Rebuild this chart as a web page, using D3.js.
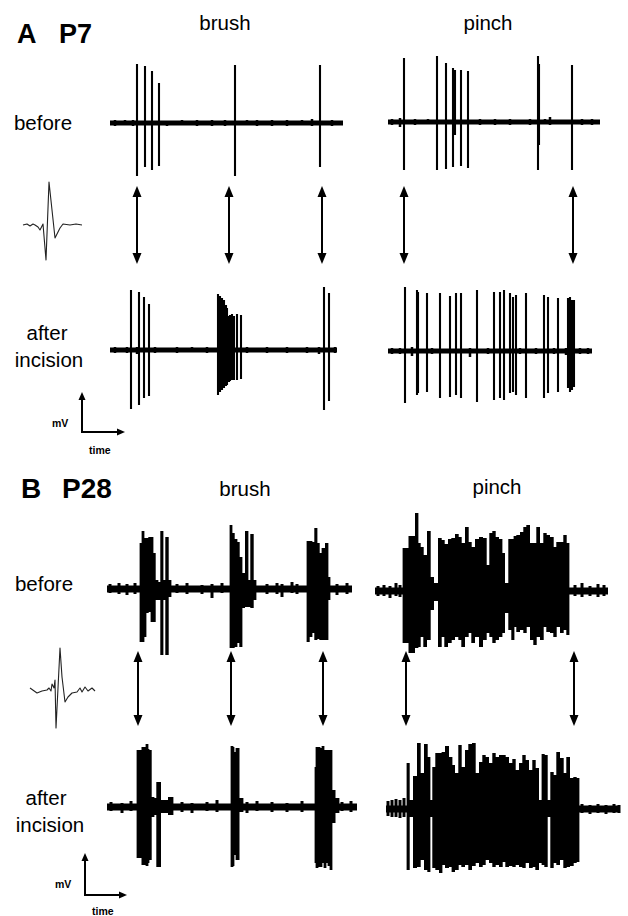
<!DOCTYPE html>
<html><head><meta charset="utf-8">
<script src="https://cdn.jsdelivr.net/npm/d3@7"></script>
<style>html,body{margin:0;padding:0;background:#fff}svg{display:block}</style>
</head><body><svg id="c" width="628" height="916"></svg>
<script>
// ---------- DATA ----------
const panels = ["A", "B"];
const ages = ["P7", "P28"];
const stimuli = ["brush", "pinch"];
const conditions = ["before", "after incision"];
const scaleLabels = ["mV", "time"];

// spikes: [time, upward amplitude, downward amplitude]
const aBrushBefore = [[30,59,53],[38,57,44],[45,52,47],[52,40,43],[128,58,53],[213,58,44]];
const aPinchBefore = [[34,64,48],[67,66,48],[76,59,47],[83,54,45],[85,52,13],[91,52,44],[98,51,46],[168,66,48],[169,58,23],[202,57,48]];
const aBrushAfter = [[24,60,59],[32,58,55],[37,53,48],[42,46,46],[111,56,45],[113,54,42],[115,52,40],[117,50,38],[119,45,36],[120,42,35],[122,34,32],[123,35,31],[125,36,30],[127,34,30],[130,36,30],[134,35,29],[217,63,60],[222,57,51]];
const aPinchAfter = [[35,64,52],[47,61,44],[48,59,42],[57,58,41],[70,58,47],[80,55,46],[86,58,44],[91,58,47],[107,61,51],[124,59,49],[130,59,47],[134,61,49],[140,58,42],[143,54,41],[146,56,44],[156,58,47],[174,56,47],[178,54,42],[188,53,41],[198,53,37],[200,54,41],[202,51,39],[204,51,36]];

const bBrushBefore = [[34,46,53],[36,58,53],[38,51,48],[40,51,24],[43,52,23],[45,52,33],[47,36,33],[50,9,11],[52,7,11],[55,58,66],[57,9,11],[60,52,66],[63,9,8],
  [124,64,59],[126,56,59],[129,50,58],[131,47,54],[134,32,58],[136,16,19],[140,58,18],[142,9,18],[145,55,19],[148,9,11],
  [201,48,53],[204,48,48],[206,47,44],[209,61,51],[211,46,50],[214,36,51],[216,41,51],[220,46,51],[222,12,11]];
const bPinchBefore = [[34,43,52],[43,55,62],[47,78,57],[49,48,56],[52,44,46],[55,36,56],[59,60,49],[62,14,19],[66,8,10],
  [70,53,56],[73,51,46],[76,47,56],[80,52,52],[83,53,49],[87,57,46],[90,54,49],[93,48,56],[97,64,46],[100,49,42],[103,44,52],
  [107,52,46],[111,54,56],[115,53,49],[118,26,42],[121,58,46],[124,60,52],[127,54,49],[131,52,46],[133,38,42],[137,8,22],
  [140,52,39],[143,52,49],[145,55,36],[148,56,41],[152,59,39],[155,64,42],[158,66,36],[162,48,49],[165,48,54],[168,64,46],
  [172,48,49],[175,58,36],[178,56,41],[182,54,42],[185,44,46],[188,49,36],[192,49,42],[195,56,39],[198,48,44]];
const bBrushAfter = [[31,57,51],[38,60,58],[40,63,59],[41,58,56],[43,57,53],[46,10,10],[48,9,8],[51,25,60],[57,7,6],[65,10,8],
  [125,61,60],[126,60,59],[128,55,48],[130,59,53],[135,9,5],
  [209,40,56],[210,60,61],[212,60,60],[214,59,60],[216,61,56],[218,57,61],[220,57,56],[222,57,59],[224,57,63],[226,17,16],[231,9,6]];
const bPinchAfter = [[38,46,61],[41,9,8],[45,33,59],[49,66,58],[52,36,51],[56,65,61],[59,52,63],[61,9,8],[64,42,59],[67,56,61],
  [71,56,64],[73,57,56],[77,63,59],[81,52,58],[83,44,63],[87,36,61],[90,64,56],[93,42,58],[97,59,56],[100,65,61],
  [104,66,57],[107,36,54],[111,47,58],[114,54,56],[117,52,51],[121,46,54],[124,56,58],[127,52,56],[131,54,58],[134,54,53],
  [137,52,58],[141,46,57],[144,50,58],[147,39,56],[151,46,58],[154,54,59],[157,49,54],[161,39,59],[164,49,58],[167,41,61],
  [171,9,54],[173,55,56],[176,54,58],[179,9,8],[182,37,59],[185,34,54],[188,57,56],[192,51,51],[195,36,59],[198,52,58],
  [202,31,57],[205,32,54],[208,31,53]];

// baseline noise: [time, up, down]
const aBrushBeforeNoise = [[8,3,3],[18,3,2],[26,3,3],[60,2,3],[75,3,2],[90,3,3],[105,3,3],[118,3,3],[140,3,2],[150,3,3],[165,3,3],[180,3,3],[195,3,2],[205,4,3],[225,3,3]];
const aPinchBeforeNoise = [[22,3,3],[30,4,5],[45,3,3],[58,3,2],[110,3,3],[125,3,3],[140,3,3],[160,3,3],[175,3,2],[180,5,3],[212,3,3],[222,3,3]];
const aBrushAfterNoise = [[8,3,3],[20,3,3],[30,3,4],[48,3,3],[70,3,3],[85,3,2],[100,3,3],[140,3,3],[160,3,3],[180,3,3],[200,3,3],[212,3,4],[228,3,3]];
const aPinchAfterNoise = [[22,3,3],[30,3,3],[42,4,5],[62,3,3],[100,3,6],[118,3,3],[150,3,3],[166,3,3],[184,3,3],[196,3,4],[210,3,3],[218,3,3]];
const bBrushBeforeNoise = [[3,5,4],[12,6,5],[20,5,6],[28,6,5],[70,5,4],[80,6,5],[95,4,5],[105,5,9],[115,6,4],[160,5,5],[170,6,5],[175,5,8],[185,7,4],[190,5,5],[230,5,6],[240,6,5]];
const bPinchBeforeNoise = [[8,5,5],[14,6,5],[20,5,7],[26,8,5],[30,6,6],[205,6,5],[212,8,6],[220,5,5],[228,7,6],[234,6,5]];
const bBrushAfterNoise = [[4,5,4],[15,4,6],[24,6,4],[75,5,5],[85,4,6],[100,5,4],[110,7,5],[140,5,6],[150,6,4],[165,5,5],[180,4,5],[195,6,5],[235,5,4],[244,6,5]];
const bPinchAfterNoise = [[18,8,7],[22,9,8],[26,10,8],[30,9,9],[34,11,8],[212,5,4],[220,4,5],[228,5,4],[236,4,5],[244,5,4],[249,4,4]];

// recording spans [start, end]
const spans = {
  aBrushBefore:[3,236], aPinchBefore:[18,230], aBrushAfter:[3,230], aPinchAfter:[18,222],
  bBrushBefore:[0,245], bPinchBefore:[5,238], bBrushAfter:[0,250], bPinchAfter:[16,250]
};

// stimulus arrow times
const aBrushArrows = [30,122,215];
const aPinchArrows = [34,203];
const bBrushArrows = [31,124,216];
const bPinchArrows = [36,204];

// average spike waveforms: [time, amplitude]
const waveA = [[0,0],[4,1],[7,-1],[10,1],[12,0],[15,-2],[17,-5],[20,1],[23,-35],[26,43],[32,-13],[37,-3],[40,1],[47,0],[53,1],[59,0]];
const waveB = [[0,2],[7,-3],[12,-1],[17,0],[19,2],[21,-1],[22,6],[24,2],[25,10],[26,-38],[30,42],[32,13],[35,-12],[38,-7],[42,-3],[47,-2],[50,2],[52,-2],[55,3],[58,-1],[62,2],[65,-1]];

// ---------- DRAW ----------
const svg = d3.select("#c");
const font = "'Liberation Sans', Arial, Helvetica, sans-serif";

const brushX = d3.scaleLinear().domain([0,250]).range([107,357]);
const pinchX = d3.scaleLinear().domain([0,260]).range([370,630]);

function groupBursts(spikes, gap) {
  const sorted = spikes.slice().sort((a,b)=>a[0]-b[0]);
  const groups = [];
  let cur = [];
  sorted.forEach(d => {
    if (cur.length && d[0] - cur[cur.length-1][0] > gap) { groups.push(cur); cur = []; }
    cur.push(d);
  });
  if (cur.length) groups.push(cur);
  return groups.filter(g => g.length > 1);
}

function drawTrace(x, baseline, spikes, noise, span, o) {
  const y = d3.scaleLinear().domain([-70,70]).range([baseline+70, baseline-70]);
  const g = svg.append("g").attr("stroke","#000").attr("stroke-linecap","butt");
  g.append("line").attr("x1",x(span[0])).attr("x2",x(span[1]))
    .attr("y1",y(0)).attr("y2",y(0)).attr("stroke-width",o.base);
  g.selectAll(null).data(noise).join("line")
    .attr("x1",d=>x(d[0])).attr("x2",d=>x(d[0]))
    .attr("y1",d=>y(d[1])).attr("y2",d=>y(-d[2])).attr("stroke-width",o.noise);
  const area = d3.area().curve(d3.curveStep)
    .x(d=>x(d[0])).y0(d=>y(-d[2])).y1(d=>y(d[1]));
  g.selectAll(null).data(groupBursts(spikes, o.gap)).join("path")
    .attr("d", area).attr("fill","#000").attr("stroke","none");
  g.selectAll(null).data(spikes).join("line")
    .attr("x1",d=>x(d[0])).attr("x2",d=>x(d[0]))
    .attr("y1",d=>y(d[1])).attr("y2",d=>y(-d[2])).attr("stroke-width",o.spike);
}

const optA = {base:5, noise:2.5, spike:2.1, gap:2.5};
const optB = {base:7, noise:3, spike:2.8, gap:9};

drawTrace(brushX,123,aBrushBefore,aBrushBeforeNoise,spans.aBrushBefore,optA);
drawTrace(pinchX,122,aPinchBefore,aPinchBeforeNoise,spans.aPinchBefore,optA);
drawTrace(brushX,350,aBrushAfter,aBrushAfterNoise,spans.aBrushAfter,optA);
drawTrace(pinchX,351,aPinchAfter,aPinchAfterNoise,spans.aPinchAfter,optA);
drawTrace(brushX,589,bBrushBefore,bBrushBeforeNoise,spans.bBrushBefore,optB);
drawTrace(pinchX,591,bPinchBefore,bPinchBeforeNoise,spans.bPinchBefore,optB);
drawTrace(brushX,807,bBrushAfter,bBrushAfterNoise,spans.bBrushAfter,optB);
drawTrace(pinchX,809,bPinchAfter,bPinchAfterNoise,spans.bPinchAfter,optB);

// double arrows
function drawArrows(x, times, y0, y1) {
  const g = svg.append("g");
  const hw = 4.5, hh = 11;
  times.forEach(t => {
    const cx = x(t);
    g.append("line").attr("x1",cx).attr("x2",cx).attr("y1",y0+hh-1).attr("y2",y1-hh+1)
      .attr("stroke","#000").attr("stroke-width",2);
    g.append("path").attr("d",`M${cx},${y0}L${cx-hw},${y0+hh}L${cx+hw},${y0+hh}Z`).attr("fill","#000");
    g.append("path").attr("d",`M${cx},${y1}L${cx-hw},${y1-hh}L${cx+hw},${y1-hh}Z`).attr("fill","#000");
  });
}
drawArrows(brushX,aBrushArrows,186,264);
drawArrows(pinchX,aPinchArrows,186,264);
drawArrows(brushX,bBrushArrows,651,726);
drawArrows(pinchX,bPinchArrows,651,726);

// waveform insets
function drawWave(data, x0, yc) {
  const x = d3.scaleLinear().domain([0,1]).range([x0,x0+1]);
  const y = d3.scaleLinear().domain([0,1]).range([yc,yc-1]);
  svg.append("path").datum(data)
    .attr("d", d3.line().x(d=>x(d[0])).y(d=>y(d[1])))
    .attr("fill","none").attr("stroke","#222").attr("stroke-width",1.1).attr("stroke-linejoin","round");
}
drawWave(waveA,23,225);
drawWave(waveB,30,690);

// scale bars
function drawScaleBar(x0, yTop, yBot, xRight, mvY, timeY) {
  const g = svg.append("g");
  g.append("path").attr("d",`M${x0},${yTop+6}L${x0},${yBot}L${xRight-6},${yBot}`)
    .attr("fill","none").attr("stroke","#000").attr("stroke-width",2);
  g.append("path").attr("d",`M${x0},${yTop}L${x0-3.5},${yTop+8}L${x0+3.5},${yTop+8}Z`).attr("fill","#000");
  g.append("path").attr("d",`M${xRight},${yBot}L${xRight-8},${yBot-3.5}L${xRight-8},${yBot+3.5}Z`).attr("fill","#000");
  g.append("text").attr("x",x0-30).attr("y",mvY).text(scaleLabels[0])
    .attr("font-family",font).attr("font-weight","bold").attr("font-size",10.5);
  g.append("text").attr("x",x0+7).attr("y",timeY).text(scaleLabels[1])
    .attr("font-family",font).attr("font-weight","bold").attr("font-size",10.5);
}
drawScaleBar(82,392,432,125,427,454);
drawScaleBar(85,853,895,127,888,915);

// text labels
function txt(x, y, s, size, weight, anchor) {
  svg.append("text").attr("x",x).attr("y",y).text(s)
    .attr("font-family",font).attr("font-size",size)
    .attr("font-weight",weight||"normal").attr("text-anchor",anchor||"start").attr("fill","#000");
}
txt(17,43,panels[0],27,"bold");
txt(59,43,ages[0],27,"bold");
txt(21,498,panels[1],28,"bold");
txt(62,498,ages[1],28,"bold");

txt(225,30,stimuli[0],20.5,"normal","middle");
txt(488,30,stimuli[1],20.5,"normal","middle");
txt(245,496,stimuli[0],20.5,"normal","middle");
txt(497,494,stimuli[1],20.5,"normal","middle");

const [w1, w2] = conditions[1].split(" ");
txt(43,130,conditions[0],20.5,"normal","middle");
txt(47,340,w1,20.5,"normal","middle");
txt(49,367,w2,20.5,"normal","middle");
txt(44,591,conditions[0],20.5,"normal","middle");
txt(46,805,w1,20.5,"normal","middle");
txt(50,832,w2,20.5,"normal","middle");
</script></body></html>
